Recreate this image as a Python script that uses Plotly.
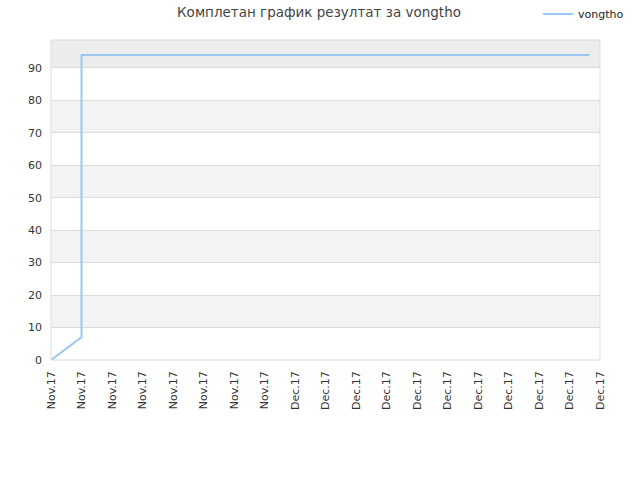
import plotly.graph_objects as go

tick_labels = ["Nov.17"] * 8 + ["Dec.17"] * 11
x_pos = [0, 1, 1, 17.65]
scores = [0, 7, 94, 94]
series_name = "vongtho"
title = "Комплетан график резултат за vongtho"

fig = go.Figure()
fig.add_trace(go.Scatter(x=x_pos, y=scores, mode="lines", name=series_name,
                         line=dict(color="#99c8f2", width=2)))

shapes = []
for lo in range(10, 90, 20):
    shapes.append(dict(type="rect", xref="paper", yref="y", x0=0, x1=1, y0=lo, y1=lo + 10,
                       fillcolor="#f3f3f3", line_width=0, layer="below"))
shapes.append(dict(type="rect", xref="paper", yref="y", x0=0, x1=1, y0=90, y1=98.6,
                   fillcolor="#ececec", line_width=0, layer="below"))
shapes.append(dict(type="rect", xref="paper", yref="paper", x0=0, x1=1, y0=0, y1=1,
                   line=dict(color="#dcdcdc", width=1), layer="above"))

fig.update_layout(
    width=640, height=480,
    margin=dict(l=51, r=40, t=40, b=120, autoexpand=False),
    paper_bgcolor="white", plot_bgcolor="white",
    font=dict(family="DejaVu Sans", size=11, color="#333333"),
    title=dict(text=title, x=319 / 640, xanchor="center", y=1 - 12 / 480, yanchor="middle",
               font=dict(size=13.5, color="#444444")),
    showlegend=True,
    legend=dict(x=1.053, xanchor="right", y=1.081, yanchor="middle", itemwidth=30,
                bgcolor="rgba(0,0,0,0)", font=dict(size=11, color="#222222")),
    xaxis=dict(range=[0, 18], tickmode="array", tickvals=list(range(19)),
               ticktext=tick_labels, tickangle=-90, showgrid=False, zeroline=False,
               showline=False, ticks="", automargin=False, ticklabelstandoff=8,
               tickfont=dict(size=11, color="#333333")),
    yaxis=dict(range=[0, 98.6], tickmode="array", tickvals=list(range(0, 100, 10)),
               showgrid=True, gridcolor="#dcdcdc", zeroline=False, showline=False,
               ticks="", automargin=False, ticklabelstandoff=8,
               tickfont=dict(size=11, color="#333333")),
    shapes=shapes,
)
fig.write_html("out.html", config={"displayModeBar": False},
               post_script="document.body.style.margin='0';")
